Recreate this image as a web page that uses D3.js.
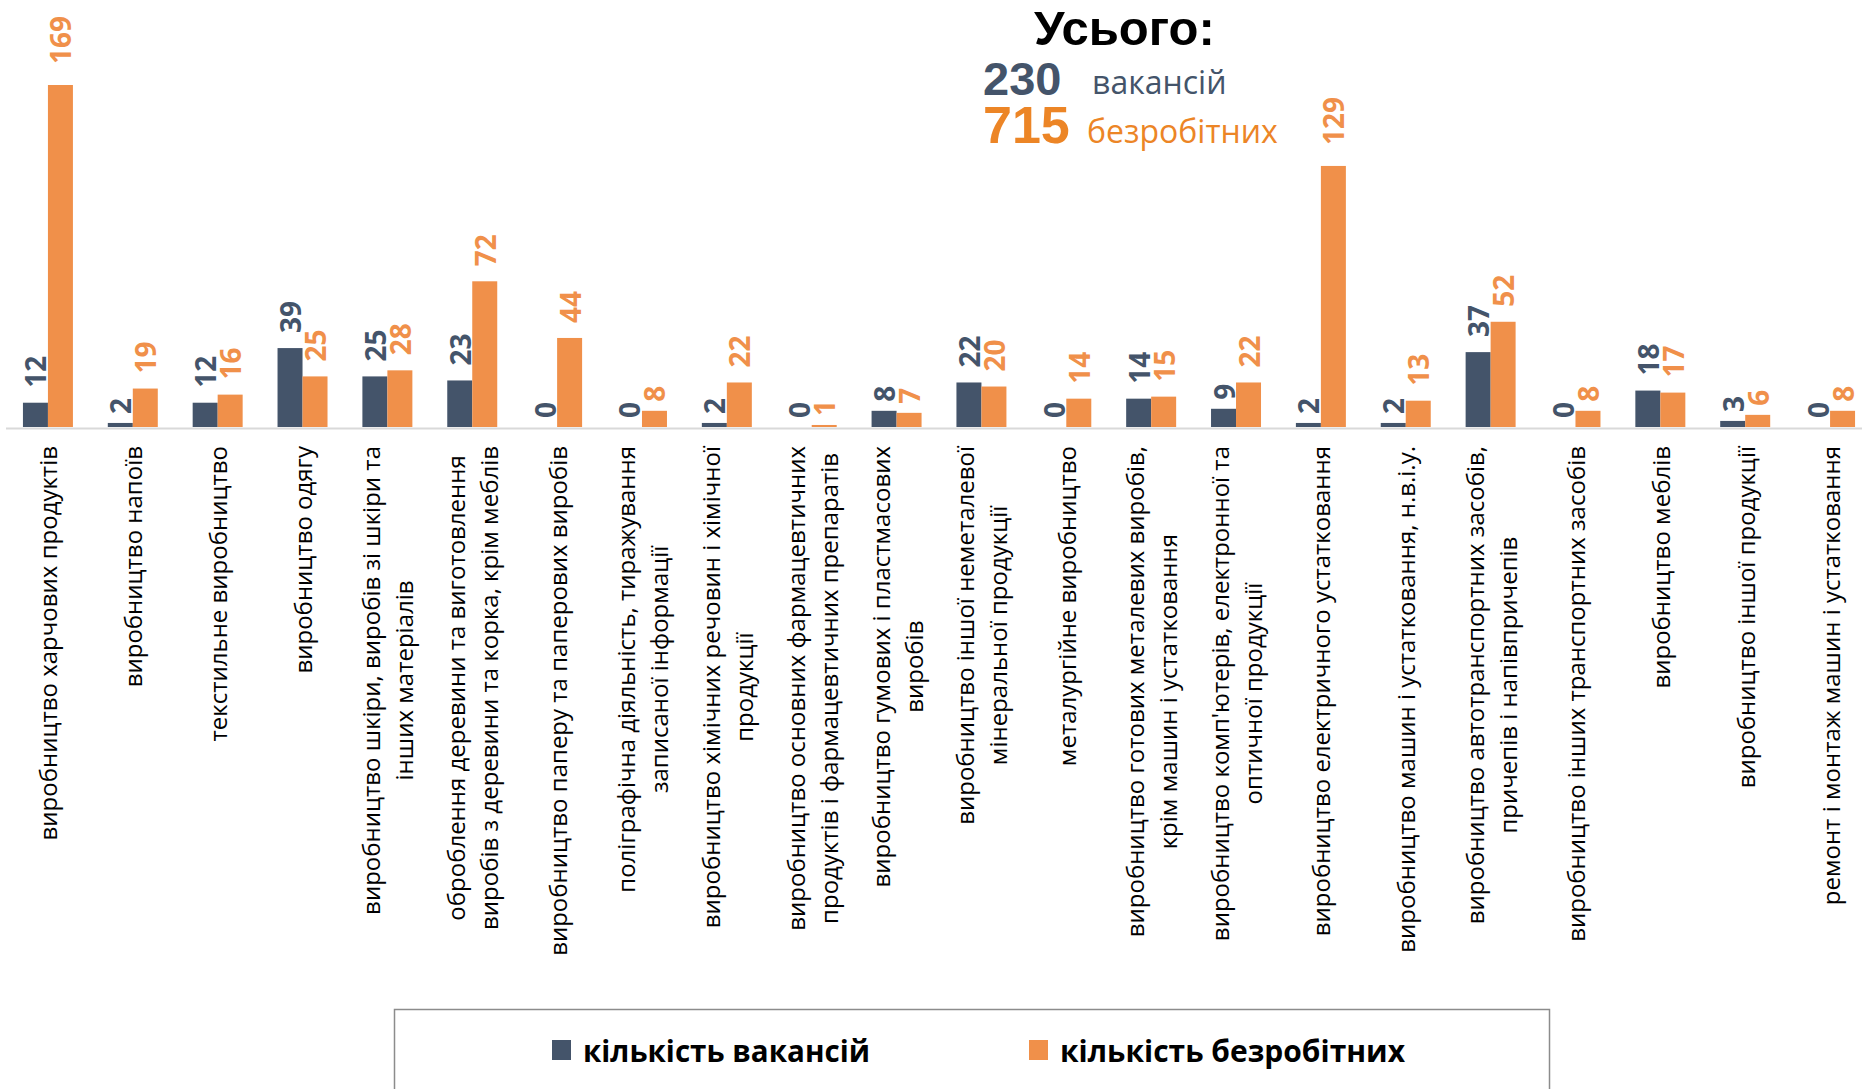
<!DOCTYPE html>
<html>
<head>
<meta charset="utf-8">
<script src="https://cdn.jsdelivr.net/npm/d3@7"></script>
<style>
  body { margin: 0; background: #fff; }
  svg { display: block; }
</style>
</head>
<body>
<svg id="chart" width="1862" height="1089"></svg>
<script>
"use strict";

// categories, each entry is the lines of the axis label
const categories = [
  ["виробництво харчових продуктів"],
  ["виробництво напоїв"],
  ["текстильне виробництво"],
  ["виробництво одягу"],
  ["виробництво шкіри, виробів зі шкіри та", "інших матеріалів"],
  ["оброблення деревини та виготовлення", "виробів з деревини та корка, крім меблів"],
  ["виробництво паперу та паперових виробів"],
  ["поліграфічна діяльність, тиражування", "записаної інформації"],
  ["виробництво хімічних речовин і хімічної", "продукції"],
  ["виробництво основних фармацевтичних", "продуктів і фармацевтичних препаратів"],
  ["виробництво гумових і пластмасових", "виробів"],
  ["виробництво іншої неметалевої", "мінеральної продукції"],
  ["металургійне виробництво"],
  ["виробництво готових металевих виробів,", "крім машин і устатковання"],
  ["виробництво комп'ютерів, електронної та", "оптичної продукції"],
  ["виробництво електричного устатковання"],
  ["виробництво машин і устатковання, н.в.і.у."],
  ["виробництво автотранспортних засобів,", "причепів і напівпричепів"],
  ["виробництво інших транспортних засобів"],
  ["виробництво меблів"],
  ["виробництво іншої продукції"],
  ["ремонт і монтаж машин і устатковання"]
];

const vacancies  = [12, 2, 12, 39, 25, 23, 0, 0, 2, 0, 8, 22, 0, 14, 9, 2, 2, 37, 0, 18, 3, 0];
const unemployed = [169, 19, 16, 25, 28, 72, 44, 8, 22, 1, 7, 20, 14, 15, 22, 129, 13, 52, 8, 17, 6, 8];

const seriesNames = ["кількість вакансій", "кількість безробітних"];
const seriesColors = ["#44546a", "#f0904a"];

const totalTitle = "Усього:";
const totalVacancies = d3.sum(vacancies);
const totalUnemployed = d3.sum(unemployed);

const svg = d3.select("#chart");
const keys = categories.map(c => c.join(" "));

const baseY = 427;
const x = d3.scaleBand()
  .domain(keys)
  .range([5.5, 1872.5])
  .paddingInner(0.411)
  .paddingOuter(0.2055);
const xs = d3.scaleBand()
  .domain([0, 1])
  .range([0, x.bandwidth()]);
const y = d3.scaleLinear()
  .domain([0, 169])
  .range([baseY, 85]);

// bars
const rows = keys.map((k, i) => ({ key: k, vals: [vacancies[i], unemployed[i]] }));
const groups = svg.append("g").selectAll("g")
  .data(rows)
  .enter().append("g")
  .attr("transform", d => `translate(${x(d.key)},0)`);

groups.selectAll("rect")
  .data(d => d.vals.map((v, s) => ({ v, s })))
  .enter().append("rect")
  .attr("x", d => xs(d.s))
  .attr("y", d => y(d.v))
  .attr("width", xs.bandwidth())
  .attr("height", d => baseY - y(d.v))
  .attr("fill", d => seriesColors[d.s]);

// value labels (rotated)
groups.selectAll("text.val")
  .data(d => d.vals.map((v, s) => ({ v, s })))
  .enter().append("text")
  .attr("class", "val")
  .attr("transform", d => {
    const off = 3 + 6 * String(d.v).length;
    return `translate(${xs(d.s) + xs.bandwidth() / 2},${y(d.v) - off}) rotate(-90)`;
  })
  .attr("dominant-baseline", "central")
  .attr("font-family", "Open Sans")
  .attr("font-weight", "bold")
  .attr("font-size", 28)
  .attr("fill", d => seriesColors[d.s])
  .text(d => d.v);

// axis line
svg.append("g")
  .attr("transform", `translate(0,${baseY + 1})`)
  .call(d3.axisBottom(x).tickSize(0).tickFormat(""))
  .call(g => g.select(".domain").attr("stroke", "#d9d9d9").attr("stroke-width", 2));

// category labels
const lineH = 33;
const labelTop = 446;
const catG = svg.append("g").selectAll("g")
  .data(categories)
  .enter().append("g")
  .attr("transform", (d, i) => `translate(${x(keys[i]) + x.bandwidth() / 2},${labelTop}) rotate(-90)`);

catG.each(function(lines) {
  const g = d3.select(this);
  const texts = lines.map((ln, j) => g.append("text")
    .attr("y", (j - (lines.length - 1) / 2) * lineH)
    .attr("dominant-baseline", "central")
    .attr("text-anchor", "middle")
    .attr("font-family", "Open Sans")
    .attr("font-size", 24)
    .attr("fill", "#000")
    .text(ln));
  const w = d3.max(texts, t => t.node().getComputedTextLength());
  texts.forEach(t => t.attr("x", -w / 2));
});

// totals block
const tot = svg.append("g");
tot.append("text")
  .attr("x", 1034).attr("y", 45)
  .attr("font-family", "Liberation Sans, Arial").attr("font-weight", "bold")
  .attr("font-size", 49).attr("fill", "#000")
  .text(totalTitle);
tot.append("text")
  .attr("x", 983).attr("y", 95)
  .attr("font-family", "Liberation Sans, Arial").attr("font-weight", "bold")
  .attr("font-size", 47).attr("fill", seriesColors[0])
  .text(totalVacancies);
tot.append("text")
  .attr("x", 1092).attr("y", 94)
  .attr("font-family", "Open Sans")
  .attr("font-size", 32).attr("fill", seriesColors[0])
  .text("вакансій");
tot.append("text")
  .attr("x", 983).attr("y", 143)
  .attr("font-family", "Liberation Sans, Arial").attr("font-weight", "bold")
  .attr("font-size", 52).attr("fill", "#ec8526")
  .text(totalUnemployed);
tot.append("text")
  .attr("x", 1087).attr("y", 143)
  .attr("font-family", "Open Sans")
  .attr("font-size", 32).attr("fill", "#ec8526")
  .text("безробітних");

// legend
const leg = svg.append("g");
leg.append("rect")
  .attr("x", 394.5).attr("y", 1009.5)
  .attr("width", 1155).attr("height", 120)
  .attr("fill", "#fff").attr("stroke", "#8c8c8c").attr("stroke-width", 1.5);

const legX = [552, 1029];
const legW = [287, 345];
seriesNames.forEach((name, i) => {
  leg.append("rect")
    .attr("x", legX[i]).attr("y", 1040)
    .attr("width", 19).attr("height", 20)
    .attr("fill", seriesColors[i]);
  leg.append("text")
    .attr("x", legX[i] + 31).attr("y", 1050)
    .attr("dominant-baseline", "central")
    .attr("font-family", "Open Sans").attr("font-weight", "bold")
    .attr("font-size", 30)
    .attr("textLength", legW[i]).attr("lengthAdjust", "spacingAndGlyphs")
    .attr("fill", "#000")
    .text(name);
});
</script>
</body>
</html>
